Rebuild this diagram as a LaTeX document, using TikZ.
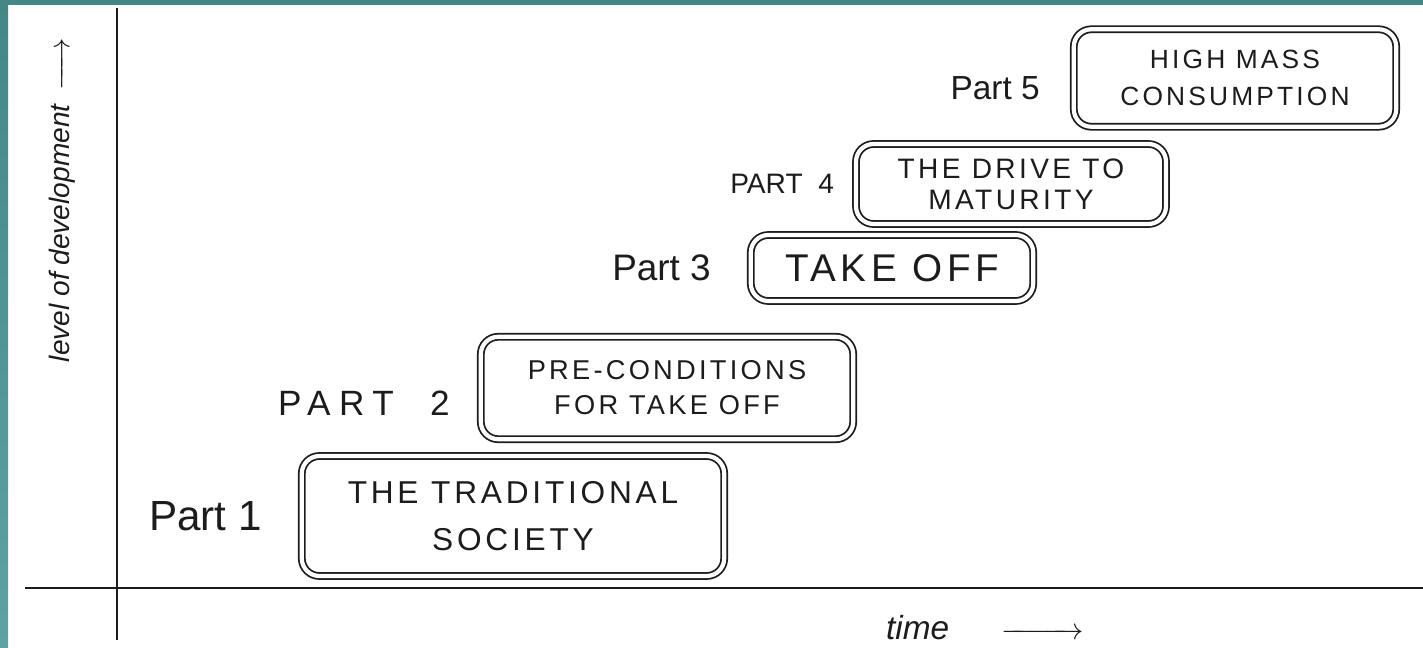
\documentclass[tikz,border=0pt]{standalone}
\usepackage{amsmath}
\usepackage{fontspec}
\setmainfont{Liberation Sans}
\newfontfamily\handcaps[LetterSpace=12]{Liberation Sans}
\usetikzlibrary{positioning}
\usepackage{xcolor}
\definecolor{Frame}{HTML}{438787}
\definecolor{FrameLow}{HTML}{5EA2A2}
\definecolor{Pencil}{HTML}{1C1C1C}

\begin{document}
\begin{tikzpicture}[
            x=0.02cm, y=-0.02cm,
            node distance=0.6cm,
            stage/.style={
                rectangle,
                draw=Pencil,
                line width=1pt,
                double=white,
                double distance=2.4pt,
                rounded corners=10pt,
                align=center,
                text=Pencil
            },
            part/.style={text=Pencil},
            axis/.style={line width=1.1pt, draw=Pencil},
            axislabel/.style={font=\itshape\fontsize{16}{19}\selectfont, text=Pencil}
        ]
            \useasboundingbox (0,0) rectangle (1423,648);
            \fill[white] (0,0) rectangle (1423,648);
            \fill[Frame] (0,0) rectangle (1423,5);
            \shade[top color=Frame, bottom color=FrameLow] (0,0) rectangle (8,648);

            % Axes
            \coordinate (ytop) at (117,8);
            \coordinate (ybot) at (117,640);
            \coordinate (xleft) at (25,588);
            \coordinate (xright) at (1423,588);
            \draw[axis] (ybot) -- (ytop);
            \draw[axis] (xleft) -- (xright);
            \node[axislabel, rotate=90] (ylab) at (62,200) {level of development\enspace$\xrightarrow{\hspace{0.75cm}}$};
            \node[axislabel, font=\itshape\fontsize{19}{22}\selectfont] (xlab) at (985,628) {time\hspace{1.05cm}$\xrightarrow{\hspace{1.25cm}}$};

            % Stages
            \node[stage, minimum width=8.45cm, minimum height=2.4cm,
                  font=\handcaps\fontsize{18}{27}\selectfont] (trad) at (513,516) {THE TRADITIONAL\\SOCIETY};
            \node[stage, minimum width=7.45cm, minimum height=2.05cm,
                  font=\handcaps\fontsize{15.5}{20}\selectfont] (precond) at (667,388) {PRE-CONDITIONS\\FOR TAKE OFF};
            \node[stage, minimum width=5.65cm, minimum height=1.32cm,
                  font=\handcaps\fontsize{22}{26}\selectfont] (takeoff) at (892,268) {TAKE OFF};
            \node[stage, minimum width=6.2cm, minimum height=1.6cm,
                  font=\handcaps\fontsize{16}{17.5}\selectfont] (drive) at (1011,184) {THE DRIVE TO\\MATURITY};
            \node[stage, minimum width=6.45cm, minimum height=1.95cm,
                  font=\handcaps\fontsize{15}{21.5}\selectfont] (mass) at (1235,78) {HIGH MASS\\CONSUMPTION};

            % Part labels
            \node[part, left=0.66cm of trad, font=\fontsize{24}{26}\selectfont] (p1) {Part 1};
            \node[part, left=0.48cm of precond, yshift=-0.3cm,
                  font=\addfontfeatures{LetterSpace=24}\fontsize{20}{24}\selectfont] (p2) {PART\ \ 2};
            \node[part, left=0.66cm of takeoff, font=\fontsize{21}{24}\selectfont] (p3) {Part 3};
            \node[part, left=0.3cm of drive, font=\fontsize{16}{20}\selectfont] (p4) {PART\ \ 4};
            \node[part, left=0.54cm of mass, yshift=-0.2cm, font=\fontsize{19}{22}\selectfont] (p5) {Part 5};
        \end{tikzpicture}
\end{document}
